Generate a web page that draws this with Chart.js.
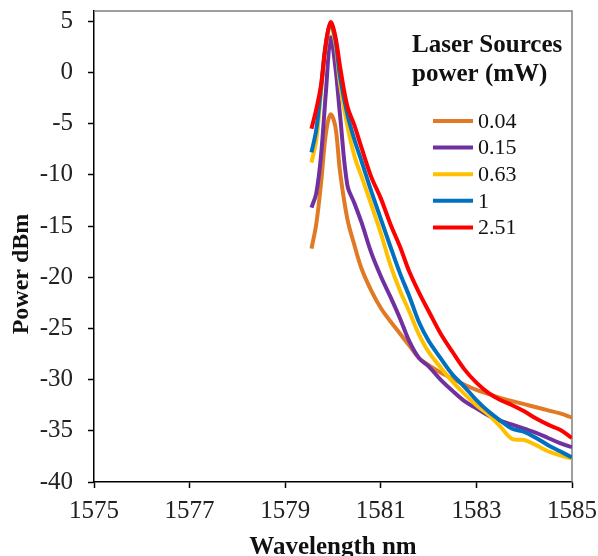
<!DOCTYPE html>
<html>
<head>
<meta charset="utf-8">
<script src="https://cdn.jsdelivr.net/npm/chart.js@4.4.1/dist/chart.umd.min.js"></script>
<style>
  html, body { margin: 0; padding: 0; background: #fff; }
  #wrap { width: 598px; height: 556px; }
</style>
</head>
<body>
<div id="wrap"><canvas id="spectrumChart" width="598" height="556"></canvas></div>
<script>
// wavelength grid (nm) and measured power (dBm) per laser source power
var wavelengths = [1579.55, 1579.65, 1579.75, 1579.85, 1579.95, 1580.05, 1580.15, 1580.3, 1580.45, 1580.6,
  1580.8, 1581.0, 1581.2, 1581.4, 1581.6, 1581.8, 1582.0, 1582.25, 1582.5, 1582.75,
  1583.0, 1583.25, 1583.5, 1583.75, 1584.0, 1584.25, 1584.5, 1584.75, 1585.0];

var p004 = [-17.2, -14.8, -10.8, -6.0, -4.1, -5.3, -9.8, -14.3, -16.9, -19.2,
  -21.3, -23.0, -24.3, -25.5, -26.7, -27.9, -28.6, -29.3, -29.9, -30.5,
  -31.0, -31.4, -31.8, -32.1, -32.4, -32.7, -33.0, -33.3, -33.7];
var p015 = [-13.2, -11.8, -8.1, -2.0, 3.4, 0.5, -4.3, -11.0, -12.8, -14.7,
  -17.6, -19.9, -21.9, -24.0, -26.3, -27.9, -28.7, -30.0, -31.1, -32.1,
  -32.8, -33.5, -34.0, -34.4, -34.8, -35.2, -35.7, -36.2, -36.6];
var p063 = [-8.8, -6.6, -2.0, 2.5, 4.5, 2.8, -1.2, -5.2, -8.2, -10.2,
  -12.9, -15.7, -18.8, -21.3, -23.4, -25.6, -27.3, -28.8, -30.2, -31.4,
  -32.5, -33.4, -34.6, -35.8, -35.9, -36.4, -37.0, -37.4, -37.7];
var p1 = [-7.8, -5.6, -1.5, 2.8, 4.8, 3.2, -0.5, -4.1, -6.6, -8.7,
  -11.6, -14.3, -17.0, -19.6, -21.9, -24.4, -26.2, -27.9, -29.5, -30.7,
  -32.0, -33.1, -34.0, -34.8, -35.1, -35.7, -36.4, -37.0, -37.6];
var p251 = [-5.5, -3.6, -1.2, 2.8, 4.9, 3.5, 0.5, -3.3, -5.2, -7.4,
  -10.2, -12.3, -14.8, -17.0, -19.5, -21.5, -23.3, -25.5, -27.3, -29.0,
  -30.3, -31.3, -32.0, -32.5, -33.1, -33.8, -34.4, -34.9, -35.7];

var seriesNames = ['0.04', '0.15', '0.63', '1', '2.51'];
var seriesColors = ['#E07A24', '#7030A0', '#FFC000', '#0070C0', '#FF0000'];
var seriesValues = [p004, p015, p063, p1, p251];

var xTicks = [1575, 1577, 1579, 1581, 1583, 1585];
var yTicks = [-40, -35, -30, -25, -20, -15, -10, -5, 0, 5];

var serif = '"Liberation Serif", "DejaVu Serif", serif';

function toPoints(vals) {
  return vals.map(function (v, i) { return { x: wavelengths[i], y: v }; });
}

var datasets = seriesValues.map(function (vals, i) {
  return {
    label: seriesNames[i],
    data: toPoints(vals),
    borderColor: seriesColors[i],
    backgroundColor: seriesColors[i],
    borderWidth: 4,
    pointRadius: 0,
    tension: 0.35,
    fill: false,
    order: seriesValues.length - i   // red drawn on top
  };
});

// gray plot frame behind the data
var framePlugin = {
  id: 'frame',
  beforeDatasetsDraw: function (chart) {
    var a = chart.chartArea, c = chart.ctx;
    c.save();
    c.strokeStyle = '#7f7f7f';
    c.lineWidth = 1.5;
    c.beginPath();
    c.moveTo(a.left, a.top);
    c.lineTo(a.right, a.top);
    c.lineTo(a.right, a.bottom);
    c.stroke();
    c.restore();
  }
};

// legend box inside the plot + y axis title (sits a bit below centre, as in the original)
var legendPlugin = {
  id: 'boxLegend',
  afterDatasetsDraw: function (chart) {
    var c = chart.ctx;
    c.save();
    c.fillStyle = '#111';
    c.font = 'bold 25px ' + serif;
    c.textBaseline = 'middle';
    c.textAlign = 'left';
    c.fillText('Laser Sources', 412, 46);
    c.fillText('power (mW)', 412, 75);
    c.font = '22px ' + serif;
    seriesNames.forEach(function (name, i) {
      var y = 121 + i * 26.6;
      c.strokeStyle = seriesColors[i];
      c.lineWidth = 4;
      c.beginPath();
      c.moveTo(433, y);
      c.lineTo(473, y);
      c.stroke();
      c.fillStyle = '#111';
      c.fillText(name, 478, y + 1);
    });

    c.translate(22, 274);
    c.rotate(-Math.PI / 2);
    c.textAlign = 'center';
    c.font = 'bold 24px ' + serif;
    c.fillText('Power dBm', 0, 0);
    c.restore();
  }
};

var ctx = document.getElementById('spectrumChart').getContext('2d');
var spectrumChart = new Chart(ctx, {
  type: 'line',
  data: { datasets: datasets },
  options: {
    responsive: false,
    animation: false,
    layout: { padding: 0 },
    plugins: {
      legend: { display: false },
      tooltip: { enabled: false }
    },
    scales: {
      x: {
        type: 'linear',
        min: 1575,
        max: 1585,
        afterBuildTicks: function (s) { s.ticks = xTicks.map(function (v) { return { value: v }; }); },
        afterFit: function (s) { s.height = 74; s.paddingRight = 26; },
        ticks: {
          color: '#222',
          padding: 8,
          maxRotation: 0,
          font: { family: serif, size: 25 },
          callback: function (v) { return String(v); }
        },
        grid: { drawOnChartArea: false, color: '#000', tickLength: 6, tickWidth: 1.5 },
        border: { color: '#000', width: 1.5 },
        title: {
          display: true,
          text: 'Wavelength nm',
          color: '#111',
          padding: { top: 0, bottom: -7 },
          font: { family: serif, size: 25, weight: 'bold' }
        }
      },
      y: {
        min: -40,
        max: 6,
        afterBuildTicks: function (s) { s.ticks = yTicks.map(function (v) { return { value: v }; }); },
        afterFit: function (s) { s.width = 94; s.paddingTop = 11; s.paddingBottom = 0; },
        ticks: {
          color: '#222',
          padding: 15,
          font: { family: serif, size: 25 }
        },
        grid: { drawOnChartArea: false, color: '#000', tickLength: 6, tickWidth: 1.5 },
        border: { color: '#000', width: 1.5 },
        title: { display: false }
      }
    }
  },
  plugins: [framePlugin, legendPlugin]
});
</script>
</body>
</html>
